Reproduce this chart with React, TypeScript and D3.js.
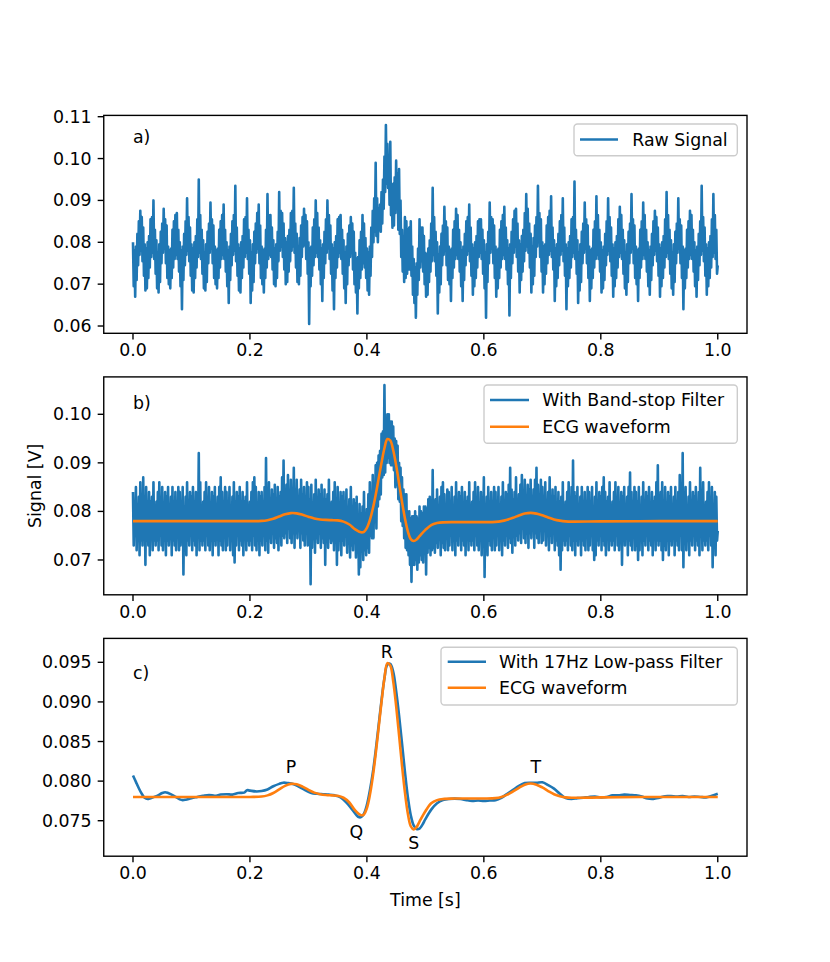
import React from 'react';
import * as d3 from 'd3';

// ---------- data ----------
const timeTicks = [0, 0.2, 0.4, 0.6, 0.8, 1.0];
const rawTicks = [0.06, 0.07, 0.08, 0.09, 0.10, 0.11];
const bandTicks = [0.07, 0.08, 0.09, 0.10];
const lowTicks = [0.075, 0.08, 0.085, 0.09, 0.095];
const timeDomain = [-0.05, 1.05];
const rawDomain = [0.05826, 0.11031];
const bandDomain = [0.06283, 0.1077];
const lowDomain = [0.07052, 0.09802];

const rawStep = 0.00125; // seconds between samples of the raw trace
const bandStep = 0.00125; // seconds between samples of the band-stop trace

// a) raw signal, mV (one 50 Hz cycle per row)
const rawSignalMv = [
  80, 69.5, 78, 67, 79, 71, 82, 74.5, 85, 77, 87.5, 78, 86, 75.5, 83.5, 72,
  79.5, 68.5, 78.5, 69, 80, 71.5, 81.5, 74, 85.5, 76.5, 86, 77.5, 90, 76, 83, 72.5,
  80.5, 69, 77.5, 68, 79.5, 70.5, 82.5, 75, 84.5, 77.5, 88, 78.5, 85.5, 75, 84, 71.5,
  79, 70, 78, 69, 78.5, 71.5, 83, 74, 85, 76, 86.5, 77, 87, 76, 83, 73,
  80, 69.5, 78, 64, 79, 71, 82, 74.5, 85, 77, 90.5, 78, 86, 75.5, 83.5, 72,
  79.5, 68.5, 78.5, 68, 80, 71.5, 81.5, 74, 85.5, 76.5, 95, 77.5, 86.5, 76, 83, 72.5,
  80.5, 69, 77.5, 68.5, 79.5, 70.5, 82.5, 75, 84.5, 77.5, 89.5, 78.5, 85.5, 75, 84, 71.5,
  79, 70, 78, 69, 78.5, 71.5, 83, 74, 85, 76, 86.5, 77, 89, 76, 83, 73,
  80, 69.5, 78, 65.5, 79, 71, 82, 74.5, 85, 77, 86.5, 78, 93.5, 75.5, 83.5, 72,
  79.5, 68.5, 78.5, 68, 80, 71.5, 81.5, 74, 85.5, 76.5, 86, 77.5, 90.5, 76, 83, 72.5,
  80.5, 65.5, 77.5, 68.5, 79.5, 70.5, 82.5, 75, 84.5, 77.5, 87, 78.5, 89, 75, 84, 71.5,
  79, 70, 78, 68, 78.5, 71.5, 83, 74, 91.5, 76, 86.5, 77, 86.5, 76.5, 83.5, 73.5,
  80.5, 70, 78.5, 69.5, 79.5, 71.5, 82.5, 75.5, 92, 78, 87.5, 79, 87, 76.5, 84.5, 73.5,
  81, 70, 80, 70.5, 81.5, 73, 83, 75.5, 87, 78, 87.5, 79, 93, 77.5, 84.5, 74,
  82, 70.5, 79, 70, 81, 72, 84, 76.5, 86, 79, 88, 79.5, 86.5, 76, 85, 72.5,
  80, 60.5, 78.5, 69.5, 79, 72, 83.5, 74.5, 85.5, 76.5, 90, 77.5, 87, 76.5, 83.5, 73.5,
  80.5, 70, 78.5, 66, 79.5, 71.5, 82.5, 75, 85.5, 77.5, 90, 78.5, 86.5, 76, 84, 72.5,
  79.5, 68.5, 78.5, 64, 80, 71.5, 81.5, 74, 85.5, 76.5, 86, 77.5, 86.5, 76, 83, 72.5,
  80.5, 69, 77.5, 65.5, 79, 70, 82, 74.5, 84, 76.5, 86, 77.5, 84.5, 73.5, 82.5, 70,
  77.5, 68, 76, 63, 76.5, 69, 80.5, 71.5, 82.5, 73.5, 86.5, 75, 84.5, 74, 81, 71.5,
  78.5, 68.5, 77.5, 67.5, 79, 72, 83.5, 76.5, 87.5, 80, 90.5, 82.5, 99, 81.5, 90.5, 80,
  88, 83, 89, 82.5, 92, 84.5, 95, 88, 100.5, 92, 108, 94, 103.5, 93, 100, 89,
  104, 86.5, 93, 83.5, 94, 84, 95.5, 87, 99.5, 88, 96.5, 83, 97.5, 82, 90, 76.5,
  83, 73, 80.5, 70.5, 86, 71.5, 85, 72.5, 83, 73.5, 83.5, 73.5, 85, 72, 79, 67.5,
  76, 65.5, 74, 62, 75, 67.5, 78.5, 71, 85.5, 74, 83.5, 75.5, 83.5, 73, 81.5, 70,
  77.5, 67, 77, 67.5, 78.5, 70.5, 80.5, 73, 84.5, 75.5, 93, 77, 86, 75.5, 82.5, 72,
  80, 63, 77, 68, 79, 70, 82, 74.5, 84, 77, 88.5, 78, 85, 74.5, 83.5, 71,
  79, 70, 78, 66, 78.5, 71.5, 83, 74, 85, 76, 88, 77, 86.5, 76, 83, 73,
  80, 69.5, 78, 66, 79, 71, 82, 74.5, 85, 77, 86, 78, 89, 75.5, 83.5, 72,
  79.5, 67.5, 78.5, 69.5, 80, 71.5, 81.5, 74, 85, 76.5, 85.5, 77.5, 85.5, 76, 83, 72.5,
  80.5, 69, 77.5, 62, 79.5, 70.5, 82.5, 75, 89.5, 77.5, 86, 78.5, 85.5, 75, 84, 71.5,
  79, 67, 78, 69, 78.5, 71.5, 83, 74, 85, 76, 86.5, 77, 88.5, 76, 83.5, 73.5,
  80.5, 70, 78.5, 62.5, 79.5, 71.5, 82.5, 75, 85.5, 77.5, 87.5, 79, 88, 76.5, 84.5, 73,
  80.5, 68, 79.5, 71, 81.5, 73, 83, 75.5, 87, 78, 91.5, 79, 88, 77.5, 84.5, 74,
  82, 68, 79, 70, 81, 72, 84, 76.5, 86, 79, 93.5, 80, 87, 76.5, 85.5, 73,
  80, 68, 79, 70, 79.5, 72.5, 84, 75, 86, 77, 87.5, 78, 91, 76.5, 83.5, 73.5,
  80.5, 66, 78.5, 69.5, 79.5, 71.5, 82, 74.5, 85, 77, 86.5, 78, 90.5, 75.5, 83.5, 72,
  79.5, 64, 78.5, 69.5, 80, 71.5, 81.5, 74, 85.5, 76.5, 86, 77.5, 94.5, 76, 83, 72.5,
  80.5, 65.5, 77.5, 68.5, 79.5, 70.5, 82.5, 75, 84.5, 77.5, 89.5, 78.5, 85.5, 75, 84, 71.5,
  79, 66, 78, 69, 78.5, 71.5, 83, 74, 85, 76, 91, 77, 86.5, 76, 83, 73,
  80, 68, 78, 69, 79, 71, 82, 74.5, 85, 77, 90.5, 78, 86, 75.5, 83.5, 72,
  79.5, 67, 78.5, 69.5, 80, 71.5, 81.5, 74, 85.5, 76.5, 88.5, 77.5, 86.5, 76, 83, 72.5,
  80.5, 69, 77.5, 67.5, 79.5, 70.5, 82.5, 75, 84.5, 77.5, 91.5, 78.5, 85.5, 75, 84, 71.5,
  79, 70, 78, 66, 78.5, 71.5, 83, 74, 85, 76, 89.5, 77, 86.5, 76, 83, 73,
  80, 69.5, 78, 67.5, 79, 71, 82, 74.5, 85, 77, 87.5, 78, 86, 75.5, 83.5, 72,
  79.5, 67, 78.5, 69.5, 80, 71.5, 81.5, 74, 85.5, 76.5, 92, 77.5, 86.5, 76, 83, 72.5,
  80.5, 69, 77.5, 67.5, 79.5, 70.5, 82.5, 75, 84.5, 77.5, 90.5, 78.5, 85.5, 75, 84, 71.5,
  79, 64, 78, 69, 78.5, 71.5, 83, 74, 85, 76, 87.5, 77, 86.5, 76, 83, 73,
  80, 69.5, 78, 67, 79, 71, 82, 74.5, 85, 77, 93.5, 78, 86, 75.5, 83.5, 72,
  79.5, 67.5, 78.5, 69.5, 80, 71.5, 81.5, 74, 85.5, 76.5, 91.5, 77.5, 86.5, 76, 83, 72.5,
  74.5,
];

// b) after band-stop filter, mV (0.02 s per row)
const bandStopMv = [
  84, 73, 82, 75, 85, 72, 81, 74, 83, 71, 86, 74, 82, 73, 87, 75,
  83, 69, 85, 74, 81, 73, 84, 71, 82, 75, 83, 72, 86, 74, 81, 73,
  82, 74, 84, 72, 86, 75, 82, 73, 85, 72, 81, 74, 84, 71, 83, 74,
  85, 73, 81, 75, 83, 71, 85, 74, 82, 73, 84, 72, 81, 75, 85, 72,
  84, 73, 82, 75, 85, 67, 81, 74, 83, 71, 86, 74, 82, 73, 84, 75,
  83, 72, 85, 74, 81, 73, 84, 71, 82, 75, 92, 72, 86, 74, 81, 73,
  82, 74, 84, 72, 86, 75, 82, 73, 85, 72, 81, 74, 84, 71, 83, 74,
  85, 73, 81, 75, 83, 71, 85, 74, 87, 73, 84, 72, 81, 75, 85, 72,
  84, 73, 82, 75, 85, 72, 81, 74, 83, 71, 86, 69.5, 82, 73, 84, 75,
  83, 72, 85, 74, 81, 73, 84, 71, 82, 75, 83, 72, 86, 74, 81, 73,
  82, 74, 84, 72, 86, 75, 87, 73, 85, 72, 81, 74, 84, 71, 83, 74,
  84, 73, 82, 75, 85, 72, 91, 74, 83, 71.5, 86, 74.5, 82.5, 73.5, 84.5, 75.5,
  83.5, 72.5, 85.5, 74.5, 81.5, 73.5, 85, 72, 83, 76, 84, 73, 87, 75, 90.5, 74.5,
  83.5, 75.5, 85.5, 73.5, 87.5, 76.5, 83.5, 74.5, 86.5, 73.5, 82.5, 75.5, 89, 72.5, 84.5, 75.5,
  86.5, 74.5, 82.5, 76.5, 84.5, 72.5, 86.5, 75.5, 83.5, 74, 85, 73, 82, 76, 86, 73,
  85, 74, 82.5, 65, 85.5, 72.5, 81.5, 74.5, 83.5, 71.5, 86.5, 74.5, 82.5, 73.5, 84.5, 75.5,
  83.5, 72.5, 85.5, 74.5, 81.5, 73.5, 84.5, 69, 82.5, 75.5, 83.5, 72.5, 86.5, 74.5, 81.5, 73.5,
  82, 74, 84, 72, 86, 75, 82, 69, 85, 72, 81, 74, 84, 71, 83, 74,
  84, 73, 82, 75, 84.5, 71.5, 80.5, 73.5, 82.5, 70.5, 85, 73, 81, 72, 82.5, 73.5,
  81.5, 70.5, 83, 72, 79, 67, 81.5, 68.5, 79.5, 72.5, 81, 70, 84, 72, 79, 71,
  80.5, 72.5, 83.5, 71.5, 86, 75, 83.5, 74.5, 87.5, 74.5, 85, 78, 89.5, 76.5, 90, 81,
  91.5, 82.5, 92.5, 83.5, 96, 87, 96.5, 87.5, 106, 88, 98, 90, 100, 91, 100, 90,
  98.5, 89.5, 98.5, 89.5, 97.5, 88.5, 95, 85, 94.5, 85.5, 93.5, 82.5, 90, 82, 89, 78,
  87, 77, 84.5, 74.5, 83.5, 72.5, 83.5, 72, 80, 71, 80, 69, 78.5, 65.5, 79, 69,
  79, 69, 80, 70, 79, 68, 78.5, 69.5, 81, 71, 80, 70, 79.5, 69.5, 81, 72,
  81, 67, 80.5, 71.5, 82.5, 72.5, 83, 71, 81, 72, 88.5, 72.5, 81.5, 71.5, 82.5, 73.5,
  84.5, 72.5, 81, 74.5, 83, 71, 85, 73.5, 86, 72.5, 83.5, 72, 81, 74.5, 84.5, 72,
  84, 73, 82, 75, 85, 72, 81, 74, 83, 71, 86, 74, 82, 73, 84, 75,
  83, 72, 85, 74, 81, 73, 84, 71, 82, 75, 83, 72, 86, 74, 81, 73,
  82, 74, 84, 72, 86, 75, 82, 73, 85, 72, 81, 74, 84, 71, 83, 74,
  87, 66.5, 81, 75, 83, 71, 85, 74, 82, 73, 84, 72, 81, 75, 85, 72,
  84, 73, 82, 75, 85, 72, 81, 74, 83, 71, 86, 74, 82, 73, 84, 75,
  83.5, 72.5, 85.5, 74.5, 89, 73.5, 84.5, 71.5, 82.5, 76, 84, 73, 87, 75, 82, 74,
  83.5, 75.5, 85.5, 73.5, 87.5, 76.5, 83.5, 74.5, 86.5, 73.5, 82.5, 75.5, 85.5, 72.5, 84.5, 75.5,
  86.5, 74.5, 82.5, 76.5, 84.5, 72.5, 86.5, 75.5, 89, 74.5, 85.5, 73.5, 82.5, 76.5, 86.5, 73.5,
  85, 74, 83, 76, 86, 73, 82, 75, 84, 72, 87, 75, 82.5, 73.5, 84.5, 75.5,
  83, 72, 85, 74, 81, 73, 84, 71, 82, 68, 83, 72, 86, 74, 81, 73,
  82, 74, 84, 72, 86, 75, 82, 73, 85, 72, 90.5, 74, 84, 71, 83, 74,
  85, 73, 81, 75, 83, 71, 85, 74, 82, 73, 84, 72, 81, 75, 85, 72,
  84, 73, 82, 75, 85, 72, 81, 70, 83, 71, 86, 74, 82, 73, 84, 75,
  83, 72, 85, 74, 87, 73, 84, 71, 82, 75, 83, 72, 86, 74, 81, 73,
  82, 74, 84, 72, 86, 75, 82, 73, 85, 72, 81, 74, 84, 69, 83, 74,
  85, 73, 81, 75, 83, 71, 85, 74, 88, 73, 84, 72, 81, 75, 85, 72,
  84, 73, 82, 70, 85, 72, 81, 74, 83, 71, 86, 74, 82, 73, 84, 75,
  83, 72, 85, 74, 81, 73, 84, 71, 82, 75, 83, 72, 86, 74, 89.5, 73,
  82, 74, 84, 72, 86, 70, 82, 73, 85, 72, 81, 74, 84, 71, 83, 74,
  85, 73, 81, 75, 83, 71, 85, 74, 82, 73, 84, 72, 87.5, 75, 85, 72,
  92, 68.5, 82, 75, 85, 72, 81, 74, 83, 71, 86, 74, 82, 73, 84, 75,
  83, 72, 85, 74, 81, 73, 84, 71, 89, 75, 83, 72, 86, 74, 81, 73,
  82, 74, 84, 72, 86, 75, 82, 73, 85, 68.5, 81, 74, 84, 71, 83, 74,
  76,
];

// ECG waveform (orange), time s / mV
const ecgTime = [
  0, 0.05, 0.1, 0.15, 0.2, 0.22, 0.23, 0.24, 0.25, 0.26, 0.27, 0.28, 0.29, 0.3,
  0.31, 0.32, 0.33, 0.34, 0.35, 0.36, 0.37, 0.38, 0.39, 0.395, 0.4, 0.405, 0.41,
  0.415, 0.42, 0.425, 0.43, 0.435, 0.44, 0.445, 0.45, 0.455, 0.46, 0.465, 0.47,
  0.475, 0.48, 0.485, 0.49, 0.5, 0.51, 0.52, 0.53, 0.55, 0.6, 0.62, 0.63, 0.64,
  0.65, 0.66, 0.67, 0.68, 0.69, 0.7, 0.71, 0.72, 0.73, 0.74, 0.75, 0.8, 0.9, 1.0,
];
const ecgMv = [
  78, 78, 78, 78, 78, 78.05, 78.2, 78.5, 78.95, 79.4, 79.65, 79.6, 79.3, 78.9,
  78.55, 78.35, 78.25, 78.2, 78.15, 77.9, 77.3, 76.3, 75.7, 75.8, 76.6, 78.2, 80.5,
  83.4, 86.7, 90.0, 93.0, 94.9, 94.6, 92.6, 89.5, 85.8, 82.0, 78.6, 75.9,
  74.3, 73.9, 74.2, 74.9, 76.2, 77.2, 77.6, 77.75, 77.8, 77.8, 77.85, 78.0, 78.3,
  78.7, 79.15, 79.55, 79.7, 79.55, 79.2, 78.75, 78.35, 78.1, 77.95, 77.9, 77.95, 78.0, 78.0,
];

// c) 17 Hz low-pass filtered (blue), time s / mV
const lowPassTime = [
  0, 0.005, 0.01, 0.015, 0.02, 0.025, 0.03, 0.04, 0.05, 0.055, 0.06, 0.07, 0.08,
  0.085, 0.09, 0.1, 0.11, 0.12, 0.13, 0.14, 0.15, 0.16, 0.17, 0.18, 0.19, 0.195,
  0.2, 0.21, 0.22, 0.23, 0.24, 0.25, 0.257, 0.265, 0.275, 0.285, 0.295, 0.305,
  0.315, 0.325, 0.335, 0.345, 0.355, 0.365, 0.375, 0.385, 0.39, 0.395, 0.4, 0.405,
  0.41, 0.415, 0.42, 0.425, 0.43, 0.435, 0.44, 0.445, 0.45, 0.455, 0.46, 0.465,
  0.47, 0.475, 0.48, 0.485, 0.49, 0.495, 0.5, 0.51, 0.52, 0.53, 0.54, 0.56, 0.57,
  0.58, 0.59, 0.6, 0.61, 0.62, 0.63, 0.64, 0.65, 0.66, 0.67, 0.68, 0.69, 0.7, 0.71,
  0.72, 0.73, 0.74, 0.75, 0.76, 0.77, 0.78, 0.79, 0.8, 0.81, 0.82, 0.83, 0.84, 0.85,
  0.86, 0.87, 0.88, 0.89, 0.9, 0.91, 0.92, 0.93, 0.94, 0.95, 0.96, 0.97, 0.98, 0.99, 1.0,
];
const lowPassMv = [
  80.7, 79.9, 79.1, 78.4, 77.9, 77.75, 77.85, 78.1, 78.5, 78.6, 78.5, 78.15, 77.7,
  77.6, 77.65, 77.85, 78.0, 78.15, 78.25, 78.15, 78.3, 78.35, 78.3, 78.5, 78.55, 78.85,
  78.8, 78.7, 78.75, 78.95, 79.35, 79.65, 79.8, 79.75, 79.6, 79.25, 78.85, 78.5,
  78.4, 78.35, 78.3, 78.2, 77.95, 77.3, 76.4, 75.5, 75.45, 75.9, 77.0, 78.8,
  81.0, 83.8, 87.0, 90.2, 93.0, 94.7, 94.8, 93.8, 91.4, 88.3, 84.8, 81.2,
  78.0, 75.7, 74.4, 73.95, 74.0, 74.5, 75.2, 76.4, 77.2, 77.6, 77.75, 77.75, 77.6,
  77.5, 77.55, 77.5, 77.55, 77.6, 77.9, 78.4, 78.9, 79.4, 79.75, 79.8, 79.8, 79.85, 79.5,
  79.05, 78.4, 77.85, 77.75, 77.85, 77.9, 78.0, 78.05, 77.95, 78.0, 78.2, 78.2, 78.3, 78.25,
  78.2, 78.05, 77.8, 77.75, 77.9, 78.1, 78.1, 78.05, 78.1, 78.0, 78.05, 78.0, 77.95, 78.15, 78.4,
];

const waveLabels = ['P', 'Q', 'R', 'S', 'T'];
const waveLabelTime = [0.27, 0.382, 0.434, 0.48, 0.689];
const waveLabelMv = [81.8, 73.6, 96.35, 72.15, 81.75];

// ---------- layout ----------
const W = 830;
const H = 962;
const L = 103.75;
const R = 747;
const FONT = 'DejaVu Sans, sans-serif';
const FS = 17.36;
const BLUE = '#1f77b4';
const ORANGE = '#ff7f0e';
const TICK = 6.08;
const LW = 2.6;
const SPINE = 1.39;

type Series = { pts: [number, number][]; color: string; smooth: boolean };
type LegendSpec = {
  x0: number; x1: number; y0: number; y1: number;
  hx0: number; hx1: number; tx: number;
  items: { label: string; color: string; y: number }[];
};

const toV = (mv: number) => mv / 1000;
const sampled = (arr: number[], step: number): [number, number][] => arr.map((v, i) => [i * step, toV(v)]);
const paired = (t: number[], v: number[]): [number, number][] => t.map((tt, i) => [tt, toV(v[i])]);

function Panel(props: {
  id: string; top: number; bottom: number; yDomain: number[]; yTicks: number[];
  yFmt: (n: number) => string; series: Series[]; legend: LegendSpec; tag: string; tagY: number;
  children?: (x: d3.ScaleLinear<number, number>, y: d3.ScaleLinear<number, number>) => React.ReactNode;
}) {
  const { id, top, bottom, yDomain, yTicks, yFmt, series, legend, tag, tagY } = props;
  const x = d3.scaleLinear().domain(timeDomain).range([L, R]);
  const y = d3.scaleLinear().domain(yDomain).range([bottom, top]);
  const xf = d3.format('.1f');
  return (
    <g>
      <defs>
        <clipPath id={id}>
          <rect x={L} y={top} width={R - L} height={bottom - top} />
        </clipPath>
      </defs>
      <g clipPath={`url(#${id})`}>
        {series.map((s, i) => {
          const gen = d3
            .line<[number, number]>()
            .x((d) => x(d[0]))
            .y((d) => y(d[1]))
            .curve(s.smooth ? d3.curveCatmullRom : d3.curveLinear);
          return (
            <path key={i} d={gen(s.pts) || ''} fill="none" stroke={s.color} strokeWidth={LW}
              strokeLinejoin="round" strokeLinecap="butt" />
          );
        })}
      </g>
      <rect x={L} y={top} width={R - L} height={bottom - top} fill="none" stroke="#000" strokeWidth={SPINE} />
      {timeTicks.map((t) => (
        <g key={'x' + t}>
          <line x1={x(t)} x2={x(t)} y1={bottom} y2={bottom + TICK} stroke="#000" strokeWidth={SPINE} />
          <text x={x(t)} y={bottom + 17} textAnchor="middle" dominantBaseline="central"
            fontFamily={FONT} fontSize={FS}>{xf(t)}</text>
        </g>
      ))}
      {yTicks.map((v) => (
        <g key={'y' + v}>
          <line x1={L - TICK} x2={L} y1={y(v)} y2={y(v)} stroke="#000" strokeWidth={SPINE} />
          <text x={L - 2 * TICK} y={y(v)} textAnchor="end" dominantBaseline="central"
            fontFamily={FONT} fontSize={FS}>{yFmt(v)}</text>
        </g>
      ))}
      <text x={x(0)} y={y(tagY)} textAnchor="start" dominantBaseline="central" fontFamily={FONT} fontSize={FS}>{tag}</text>
      {props.children ? props.children(x, y) : null}
      <rect x={legend.x0} y={legend.y0} width={legend.x1 - legend.x0} height={legend.y1 - legend.y0}
        rx={3.5} fill="#fff" fillOpacity={0.8} stroke="#cccccc" strokeWidth={SPINE} />
      {legend.items.map((it) => (
        <g key={it.label}>
          <line x1={legend.hx0} x2={legend.hx1} y1={it.y} y2={it.y} stroke={it.color} strokeWidth={LW} />
          <text x={legend.tx} y={it.y} dominantBaseline="central" fontFamily={FONT} fontSize={FS}>{it.label}</text>
        </g>
      ))}
    </g>
  );
}

export default function App() {
  React.useEffect(() => {
    document.body.style.margin = '0';
    document.body.style.overflow = 'hidden';
  }, []);
  const f2 = d3.format('.2f');
  const f3 = d3.format('.3f');
  const ecg = paired(ecgTime, ecgMv);
  return (
    <svg width={W} height={H} style={{ position: 'absolute', left: 0, top: 0, background: '#fff' }}>
      <rect x={0} y={0} width={W} height={H} fill="#fff" />
      <Panel id="pa" top={115.4} bottom={333.3} yDomain={rawDomain} yTicks={rawTicks} yFmt={f2}
        series={[{ pts: sampled(rawSignalMv, rawStep), color: BLUE, smooth: false }]}
        tag="a)" tagY={0.10522}
        legend={{ x0: 574, x1: 737.3, y0: 124, y1: 155.7, hx0: 580, hx1: 618, tx: 632.3,
          items: [{ label: 'Raw Signal', color: BLUE, y: 139.5 }] }} />
      <Panel id="pb" top={376.9} bottom={594.8} yDomain={bandDomain} yTicks={bandTicks} yFmt={f2}
        series={[
          { pts: sampled(bandStopMv, bandStep), color: BLUE, smooth: false },
          { pts: ecg, color: ORANGE, smooth: true },
        ]}
        tag="b)" tagY={0.10233}
        legend={{ x0: 484, x1: 737.3, y0: 385, y1: 443.3, hx0: 490, hx1: 529, tx: 542.3,
          items: [
            { label: 'With Band-stop Filter', color: BLUE, y: 400 },
            { label: 'ECG waveform', color: ORANGE, y: 426.7 },
          ] }} />
      <Panel id="pc" top={638.4} bottom={856.2} yDomain={lowDomain} yTicks={lowTicks} yFmt={f3}
        series={[
          { pts: paired(lowPassTime, lowPassMv), color: BLUE, smooth: true },
          { pts: ecg, color: ORANGE, smooth: true },
        ]}
        tag="c)" tagY={0.09366}
        legend={{ x0: 441, x1: 737.3, y0: 647.3, y1: 705, hx0: 447.7, hx1: 486, tx: 499,
          items: [
            { label: 'With 17Hz Low-pass Filter', color: BLUE, y: 661.7 },
            { label: 'ECG waveform', color: ORANGE, y: 687.7 },
          ] }}>
        {(x, y) =>
          waveLabels.map((lab, i) => (
            <text key={lab} x={x(waveLabelTime[i])} y={y(toV(waveLabelMv[i]))} textAnchor="middle"
              dominantBaseline="central" fontFamily={FONT} fontSize={FS}>{lab}</text>
          ))
        }
      </Panel>
      <text x={35} y={485.85} textAnchor="middle" dominantBaseline="central" fontFamily={FONT} fontSize={FS}
        transform="rotate(-90 35 485.85)">Signal [V]</text>
      <text x={425.4} y={900} textAnchor="middle" dominantBaseline="central" fontFamily={FONT} fontSize={FS}>Time [s]</text>
    </svg>
  );
}
